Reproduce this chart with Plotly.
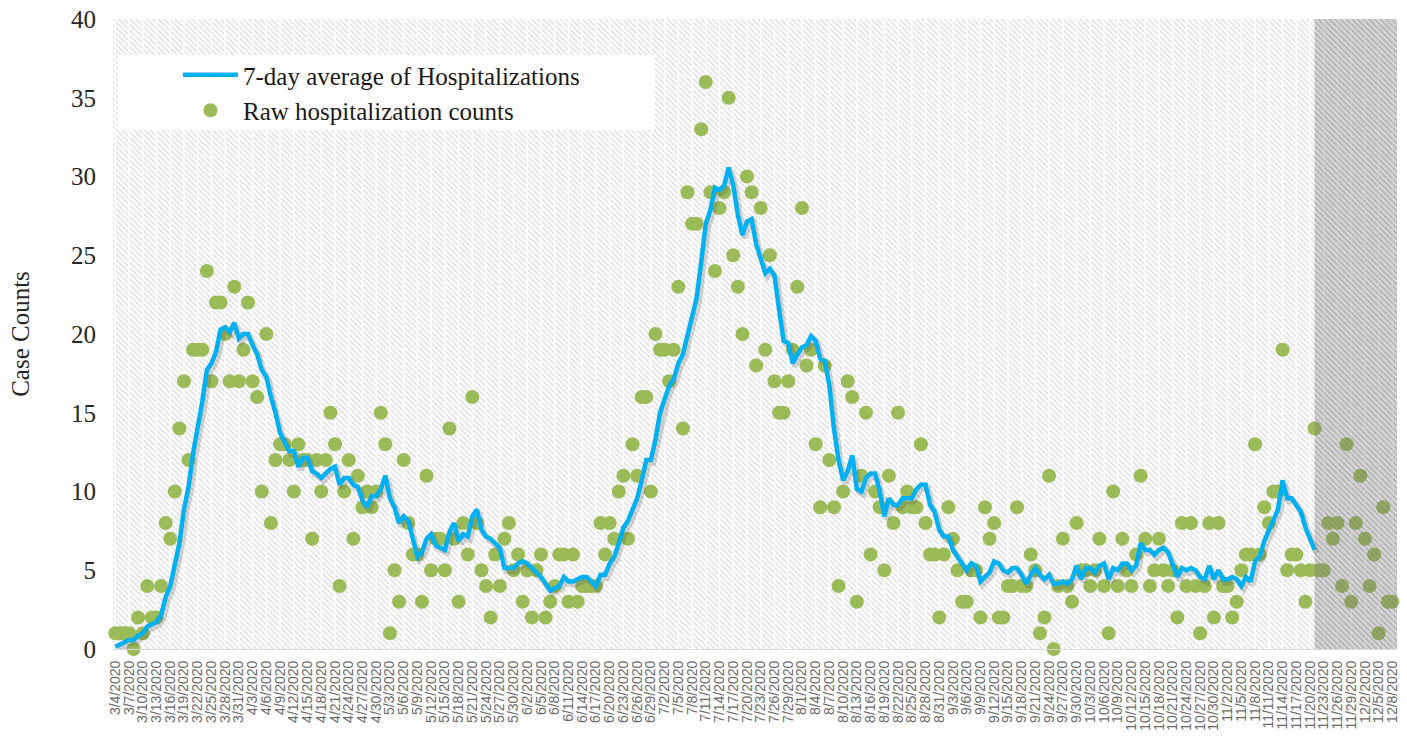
import pandas as pd
import plotly.graph_objects as go

# ---------------- data ----------------
first_day = "2020-03-04"

raw_counts = [
    1, 1, 1, 1, 0, 2, 1, 4, 2, 2,
    4, 8, 7, 10, 14, 17, 12, 19, 19, 19,
    24, 17, 22, 22, 20, 17, 23, 17, 19, 22,
    17, 16, 10, 20, 8, 12, 13, 13, 12, 10,
    13, 12, 12, 7, 12, 10, 12, 15, 13, 4,
    10, 12, 7, 11, 9, 10, 9, 10, 15, 13,
    1, 5, 3, 12, 8, 6, 6, 3, 11, 5,
    7, 7, 5, 14, 7, 3, 8, 6, 16, 8,
    5, 4, 2, 6, 4, 7, 8, 5, 6, 3,
    5, 2, 5, 6, 2, 3, 4, 6, 6, 3,
    6, 3, 4, 4, 4, 4, 8, 6, 8, 7,
    10, 11, 7, 13, 11, 16, 16, 10, 20, 19,
    19, 17, 19, 23, 14, 29, 27, 27, 33, 36,
    29, 24, 28, 29, 35, 25, 23, 20, 30, 29,
    18, 28, 19, 25, 17, 15, 15, 17, 19, 23,
    28, 18, 19, 13, 9, 18, 12, 9, 4, 10,
    17, 16, 3, 11, 15, 6, 10, 9, 5, 11,
    8, 15, 9, 10, 9, 9, 13, 8, 6, 6,
    2, 6, 9, 7, 5, 3, 3, 5, 5, 2,
    9, 7, 8, 2, 2, 4, 4, 9, 4, 4,
    6, 5, 1, 2, 11, 0, 4, 7, 4, 3,
    8, 5, 5, 4, 5, 7, 4, 1, 10, 4,
    7, 5, 4, 6, 11, 7, 4, 5, 7, 5,
    4, 5, 2, 8, 4, 8, 4, 1, 4, 8,
    2, 8, 4, 4, 2, 3, 5, 6, 6, 13,
    6, 9, 8, 10, 10, 19, 5, 6, 6, 5,
    3, 5, 14, 5, 5, 8, 7, 8, 4, 13,
    3, 8, 11, 7, 4, 6, 1, 9, 3, 3,
]

avg_7day = [
    0.14, 0.29, 0.43, 0.57, 0.57, 0.86, 1.0, 1.43, 1.57, 1.71,
    2.14, 3.29, 4.0, 5.29, 6.71, 8.86, 10.29, 12.43, 14.0, 15.71,
    17.71, 18.14, 18.86, 20.29, 20.43, 20.14, 20.71, 19.71, 20.0, 20.0,
    19.29, 18.71, 17.71, 17.29, 16.0, 15.0, 13.71, 13.14, 12.57, 12.57,
    11.57, 12.14, 12.14, 11.29, 11.14, 10.86, 11.14, 11.43, 11.57, 10.43,
    10.86, 10.86, 10.43, 10.29, 9.43, 9.0, 9.71, 9.71, 10.14, 11.0,
    9.57, 9.0, 8.0, 8.43, 8.14, 6.86, 5.86, 6.14, 7.0, 7.29,
    6.57, 6.43, 6.29, 7.43, 8.0, 6.86, 7.29, 7.14, 8.43, 8.86,
    7.57, 7.14, 7.0, 6.71, 6.43, 5.14, 5.14, 5.14, 5.43, 5.57,
    5.43, 5.14, 4.86, 4.57, 4.14, 3.71, 3.86, 4.0, 4.57, 4.29,
    4.29, 4.43, 4.57, 4.57, 4.29, 4.0, 4.71, 4.71, 5.43, 5.86,
    6.71, 7.71, 8.14, 8.86, 9.57, 10.71, 12.0, 12.0, 13.29, 15.0,
    15.86, 16.71, 17.14, 18.14, 18.71, 20.0, 21.14, 22.29, 24.57, 27.0,
    27.86, 29.29, 29.14, 29.43, 30.57, 29.43, 27.57, 26.29, 27.14, 27.29,
    25.71, 24.71, 23.86, 24.14, 23.71, 21.57, 19.57, 19.43, 18.14, 18.71,
    19.14, 19.29, 19.86, 19.57, 18.43, 18.29, 16.71, 14.0, 12.0, 10.71,
    11.29, 12.29, 10.14, 10.0, 10.86, 11.14, 11.14, 10.0, 8.43, 9.57,
    9.14, 9.14, 9.57, 9.57, 9.57, 10.14, 10.43, 10.43, 9.14, 8.71,
    7.57, 7.14, 7.14, 6.29, 5.86, 5.43, 5.0, 5.43, 5.29, 4.29,
    4.57, 4.86, 5.57, 5.43, 5.0, 4.86, 5.14, 5.14, 4.71, 4.14,
    4.71, 5.14, 4.71, 4.43, 4.71, 4.14, 4.14, 4.29, 4.14, 4.43,
    5.29, 4.43, 5.14, 5.14, 4.86, 5.29, 5.43, 4.43, 5.14, 5.0,
    5.43, 5.43, 5.0, 5.29, 6.71, 6.29, 6.29, 6.0, 6.29, 6.43,
    6.14, 5.29, 4.57, 5.14, 5.0, 5.14, 5.0, 4.57, 4.43, 5.29,
    4.43, 5.0, 4.43, 4.43, 4.57, 4.43, 4.0, 4.57, 4.29, 5.57,
    5.86, 6.86, 7.57, 8.29, 8.86, 10.71, 9.57, 9.57, 9.14, 8.71,
    7.71, 7.0, 6.29,
]

y_min, y_max, y_step = 0, 40, 5
tick_every_days = 3

line_name = "7-day average of Hospitalizations"
dot_name = "Raw hospitalization counts"
y_title = "Case Counts"

# ---------------- derived axes helpers ----------------
dates = pd.date_range(first_day, periods=len(raw_counts), freq="D")
avg_dates = dates[:len(avg_7day)]
tick_dates = dates[::tick_every_days]
tick_text = [f"{d.month}/{d.day}/{d.year}" for d in tick_dates]

day = pd.Timedelta(days=1)
x_lo = dates[0] - day / 2
x_hi = dates[-1] + day
shade_lo = avg_dates[-1]

def iso(t):
    return t.isoformat()

# ---------------- layout geometry ----------------
W, H = 1407, 744
L, R, T, B = 113, 10, 19, 95
PW, PH = W - L - R, H - T - B

SERIF = "Liberation Serif"
SANS = "Liberation Sans"

fig = go.Figure()

# hatched plot background
fig.add_trace(go.Scatter(
    x=[iso(x_lo), iso(x_lo), iso(x_hi), iso(x_hi), iso(x_lo)],
    y=[y_min, y_max, y_max, y_min, y_min],
    mode="lines", line=dict(width=0), fill="toself", fillcolor="white",
    fillpattern=dict(shape="\\", fgcolor="#b9b9b9", bgcolor="white",
                     size=4, solidity=0.35),
    hoverinfo="skip", showlegend=False,
))

# vertical gridlines at every tick
gx, gy = [], []
for d in tick_dates:
    gx += [iso(d), iso(d), None]
    gy += [y_min, y_max, None]
fig.add_trace(go.Scatter(
    x=gx, y=gy, mode="lines",
    line=dict(color="rgba(255,255,255,0.85)", width=1.5),
    hoverinfo="skip", showlegend=False,
))

# raw counts
fig.add_trace(go.Scatter(
    x=dates, y=raw_counts, mode="markers", name=dot_name,
    marker=dict(size=14, color="#9BBB59", line=dict(width=0)),
    cliponaxis=False, legendrank=2,
))

# soft drop shadow of the average line (same data, slightly offset axes)
fig.add_trace(go.Scatter(
    x=avg_dates, y=avg_7day, mode="lines", xaxis="x2", yaxis="y2",
    line=dict(color="rgba(70,70,70,0.22)", width=6),
    hoverinfo="skip", showlegend=False, cliponaxis=False,
))

# 7-day average
fig.add_trace(go.Scatter(
    x=avg_dates, y=avg_7day, mode="lines", xaxis="x3", yaxis="y3",
    name=line_name, line=dict(color="#00B0F0", width=4.5),
    legendrank=1, cliponaxis=False,
))

# shaded (incomplete data) region, hatch still visible through it
fig.add_trace(go.Scatter(
    x=[iso(shade_lo), iso(shade_lo), iso(x_hi), iso(x_hi), iso(shade_lo)],
    y=[y_min, y_max, y_max, y_min, y_min],
    xaxis="x3", yaxis="y3",
    mode="lines", line=dict(width=0), fill="toself",
    fillcolor="rgba(110,110,110,0.33)",
    fillpattern=dict(shape="\\", fgcolor="rgba(90,90,90,0.35)",
                     bgcolor="rgba(120,120,120,0.30)", size=4, solidity=0.35),
    hoverinfo="skip", showlegend=False,
))

shift_x = day / 2
shift_y = 0.2

fig.update_layout(
    width=W, height=H,
    margin=dict(l=L, r=R, t=T, b=B, autoexpand=False),
    paper_bgcolor="white", plot_bgcolor="white",
    showlegend=True,
    xaxis=dict(
        type="date", range=[iso(x_lo), iso(x_hi)],
        tickmode="array", tickvals=list(tick_dates), ticktext=tick_text,
        tickangle=-90, ticks="", ticklabelstandoff=5,
        tickfont=dict(family=SANS, size=14, color="#6b6b6b"),
        showgrid=False, zeroline=False,
        showline=True, linecolor="#d9d9d9", linewidth=1,
        automargin=False,
    ),
    yaxis=dict(
        range=[y_min, y_max], dtick=y_step, tick0=0,
        ticks="", ticklabelstandoff=16,
        tickfont=dict(family=SERIF, size=25, color="#262626"),
        showgrid=False, zeroline=False, showline=False,
        title=dict(text=y_title, standoff=34,
                   font=dict(family=SERIF, size=25, color="#262626")),
        automargin=False,
    ),
    xaxis2=dict(type="date", overlaying="x", anchor="y2",
                range=[iso(x_lo - shift_x), iso(x_hi - shift_x)],
                visible=False),
    yaxis2=dict(overlaying="y", anchor="x2",
                range=[y_min + shift_y, y_max + shift_y], visible=False),
    xaxis3=dict(type="date", overlaying="x", anchor="y3",
                range=[iso(x_lo), iso(x_hi)], visible=False),
    yaxis3=dict(overlaying="y", anchor="x3",
                range=[y_min, y_max], visible=False),
    legend=dict(
        x=(178 - L) / PW, y=1 - (52 - T) / PH,
        xanchor="left", yanchor="top",
        bgcolor="rgba(0,0,0,0)", borderwidth=0,
        font=dict(family=SERIF, size=25, color="#1a1a1a"),
        itemwidth=55, tracegroupgap=0,
    ),
    shapes=[dict(
        type="rect", xref="paper", yref="paper", layer="above",
        x0=(118 - L) / PW, x1=(655 - L) / PW,
        y0=1 - (130 - T) / PH, y1=1 - (55 - T) / PH,
        fillcolor="rgba(255,255,255,0.95)", line=dict(width=0),
    )],
)

fig.write_html(
    "out.html",
    config={"displayModeBar": False},
    post_script="document.body.style.margin='0';",
)
